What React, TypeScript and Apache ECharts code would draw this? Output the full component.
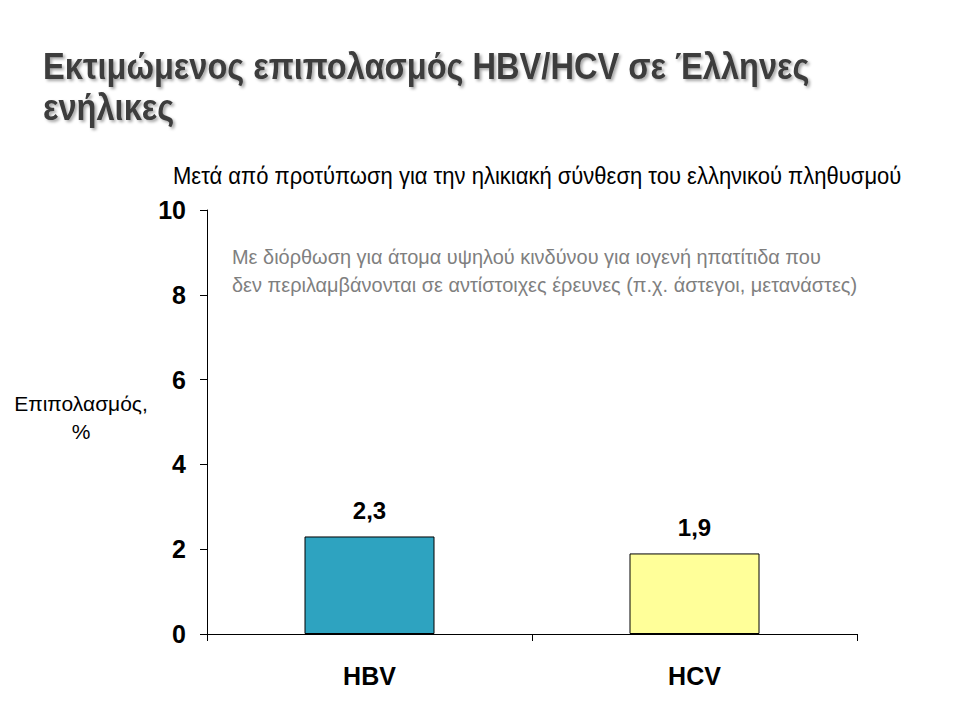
import React, { useEffect, useRef } from "react";
import * as echarts from "echarts";

const categories = ["HBV", "HCV"];
const prevalence = [2.3, 1.9];
const barColors = ["#2ea3c0", "#ffff99"];
const yTicks = [0, 2, 4, 6, 8, 10];

const titleText = "Εκτιμώμενος επιπολασμός HBV/HCV σε Έλληνες\nενήλικες";
const subtitleText = "Μετά από προτύπωση για την ηλικιακή σύνθεση του ελληνικού πληθυσμού";
const noteText =
  "Με διόρθωση για άτομα υψηλού κινδύνου για ιογενή ηπατίτιδα που\nδεν περιλαμβάνονται σε αντίστοιχες έρευνες (π.χ. άστεγοι, μετανάστες)";
const yName = "Επιπολασμός,\n%";

export default function App() {
  const ref = useRef<HTMLDivElement>(null);
  useEffect(() => {
    if (!ref.current) return;
    const chart = echarts.init(ref.current, undefined, { renderer: "svg" });
    const font = "'Liberation Sans', Arial, sans-serif";
    chart.setOption({
      animation: false,
      backgroundColor: "#ffffff",
      graphic: [
        {
          type: "text",
          x: 43,
          y: 46,
          scaleX: 0.905,
          style: {
            text: titleText,
            font: `bold 36px ${font}`,
            lineHeight: 41,
            fill: "#3d3d3d",
            align: "left",
            verticalAlign: "top",
            textShadowColor: "rgba(0,0,0,0.35)",
            textShadowBlur: 3,
            textShadowOffsetX: 2,
            textShadowOffsetY: 2,
          },
        },
        {
          type: "text",
          x: 173,
          y: 176,
          scaleX: 0.957,
          style: {
            text: subtitleText,
            font: `23px ${font}`,
            fill: "#000000",
            align: "left",
            verticalAlign: "middle",
          },
        },
        {
          type: "text",
          x: 232,
          y: 242,
          scaleX: 0.95,
          style: {
            text: noteText,
            font: `21px ${font}`,
            lineHeight: 28,
            fill: "#7f7f7f",
            align: "left",
            verticalAlign: "top",
          },
        },
        {
          type: "text",
          x: 81,
          y: 417,
          style: {
            text: yName,
            font: `21px ${font}`,
            fill: "#000000",
            align: "center",
            verticalAlign: "middle",
            lineHeight: 28,
          },
        },
      ],
      grid: { left: 207, right: 103, top: 210, bottom: 86 },
      xAxis: {
        type: "category",
        data: categories,
        axisLine: { lineStyle: { color: "#000", width: 1 } },
        axisTick: { show: true, length: 7, lineStyle: { color: "#000" } },
        axisLabel: {
          margin: 29,
          fontFamily: font,
          fontWeight: "bold",
          fontSize: 25,
          color: "#000",
        },
      },
      yAxis: {
        type: "value",
        min: 0,
        max: 10,
        interval: 2,
        splitLine: { show: false },
        axisLine: { show: true, lineStyle: { color: "#000", width: 1 } },
        axisTick: { show: true, length: 7, lineStyle: { color: "#000" } },
        axisLabel: {
          margin: 21,
          fontFamily: font,
          fontWeight: "bold",
          fontSize: 25,
          color: "#000",
          formatter: (v: number) => (yTicks.includes(v) ? String(v) : ""),
        },
      },
      series: [
        {
          type: "bar",
          barWidth: "40%",
          data: prevalence.map((v, i) => ({
            value: v,
            itemStyle: { color: barColors[i], borderColor: "#000", borderWidth: 1 },
          })),
          label: {
            show: true,
            position: "top",
            distance: 14,
            fontFamily: font,
            fontWeight: "bold",
            fontSize: 24,
            color: "#000",
            formatter: (p: any) => String(p.value).replace(".", ","),
          },
        },
      ],
    });
    return () => chart.dispose();
  }, []);
  return (
    <div
      ref={ref}
      style={{ position: "absolute", left: 0, top: 0, width: 960, height: 720 }}
    />
  );
}
